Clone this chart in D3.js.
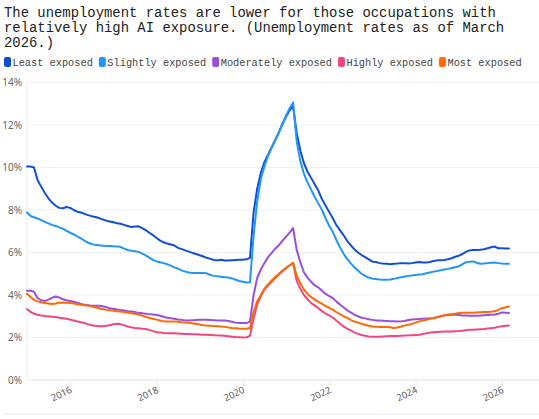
<!DOCTYPE html>
<html>
<head>
<meta charset="utf-8">
<script src="https://cdn.jsdelivr.net/npm/d3@7"></script>
<style>
  body { margin: 0; background: #fff; }
  svg { display: block; }
</style>
</head>
<body>
<svg id="chart" width="539" height="419"></svg>
<script>
// monthly, Jan 2015 - Mar 2026 (one row per year)
const startMonth = new Date(2015, 0, 1);
const endMonth = new Date(2026, 2, 1);

const leastExposed = [
  10.05, 10.05, 10.0, 9.4, 9.1, 8.8, 8.55, 8.35, 8.2, 8.1, 8.08, 8.14,
  8.1, 8.0, 7.92, 7.88, 7.82, 7.76, 7.71, 7.67, 7.62, 7.56, 7.5, 7.46,
  7.42, 7.38, 7.35, 7.3, 7.25, 7.2, 7.22, 7.23, 7.15, 7.05, 6.93, 6.82,
  6.68, 6.56, 6.48, 6.42, 6.38, 6.33, 6.22, 6.16, 6.1, 6.04, 5.98, 5.93,
  5.87, 5.81, 5.75, 5.7, 5.65, 5.63, 5.66, 5.62, 5.62, 5.64, 5.65, 5.66,
  5.66, 5.68, 5.75, 7.9, 9.0, 9.75, 10.25, 10.6, 10.95, 11.3, 11.65, 12.05,
  12.4, 12.7, 12.87, 11.6, 10.8, 10.2, 9.8, 9.5, 9.2, 8.9, 8.5, 8.2,
  7.9, 7.6, 7.3, 7.05, 6.82, 6.55, 6.35, 6.15, 6.0, 5.88, 5.78, 5.68,
  5.57, 5.55, 5.5, 5.48, 5.47, 5.45, 5.47, 5.48, 5.5, 5.5, 5.48, 5.5,
  5.53, 5.55, 5.53, 5.53, 5.55, 5.6, 5.63, 5.63, 5.65, 5.68, 5.73, 5.8,
  5.85, 5.93, 6.03, 6.1, 6.12, 6.12, 6.13, 6.15, 6.2, 6.25, 6.28, 6.2,
  6.2, 6.19, 6.19
];
const slightlyExposed = [
  7.88, 7.72, 7.66, 7.6, 7.52, 7.44, 7.37, 7.3, 7.25, 7.18, 7.12, 7.02,
  6.93, 6.85, 6.76, 6.67, 6.55, 6.46, 6.4, 6.36, 6.34, 6.32, 6.3, 6.31,
  6.29, 6.28, 6.27, 6.18, 6.12, 6.08, 6.06, 6.03, 5.95, 5.86, 5.76, 5.65,
  5.58, 5.54, 5.5, 5.45, 5.38, 5.3, 5.24, 5.16, 5.1, 5.06, 5.04, 5.03,
  5.03, 5.03, 5.02, 4.94, 4.9, 4.88, 4.86, 4.84, 4.82, 4.78, 4.72, 4.66,
  4.62, 4.59, 4.6, 6.8, 8.4, 9.45, 10.05, 10.55, 10.95, 11.3, 11.65, 12.05,
  12.45, 12.8, 13.06, 11.2, 10.3, 9.7, 9.3, 8.95, 8.6, 8.3, 8.0, 7.6,
  7.25, 6.95, 6.6, 6.25, 5.95, 5.7, 5.5, 5.3, 5.15, 5.0, 4.9, 4.82,
  4.77, 4.75, 4.73, 4.72, 4.72, 4.73, 4.76, 4.8, 4.84, 4.87, 4.9, 4.92,
  4.94, 4.96, 4.98, 5.02, 5.06, 5.1, 5.13, 5.17, 5.2, 5.23, 5.27, 5.31,
  5.35, 5.45, 5.54, 5.56, 5.58, 5.52, 5.47, 5.48, 5.5, 5.52, 5.53, 5.5,
  5.48, 5.47, 5.47
];
const moderatelyExposed = [
  4.2, 4.2, 4.15, 3.85, 3.76, 3.72, 3.78, 3.87, 3.93, 3.88, 3.8, 3.75,
  3.72, 3.68, 3.64, 3.58, 3.54, 3.52, 3.5, 3.5, 3.49, 3.47, 3.43, 3.38,
  3.35, 3.32, 3.3, 3.27, 3.24, 3.22, 3.2, 3.16, 3.14, 3.12, 3.1, 3.08,
  3.06, 3.02, 2.98, 2.93, 2.91, 2.88, 2.85, 2.83, 2.8, 2.8, 2.81, 2.82,
  2.83, 2.83, 2.83, 2.82, 2.81, 2.8, 2.8, 2.8, 2.78, 2.74, 2.7, 2.68,
  2.68, 2.68, 2.75, 4.0, 4.8, 5.2, 5.5, 5.78, 5.98, 6.18, 6.35, 6.55,
  6.75, 6.95, 7.15, 6.1, 5.55, 5.06, 4.82, 4.62, 4.45, 4.35, 4.2, 4.05,
  3.95, 3.85, 3.7, 3.55, 3.42, 3.28, 3.18, 3.08, 3.0, 2.93, 2.9, 2.86,
  2.83, 2.8, 2.8, 2.79, 2.78, 2.77, 2.76, 2.75, 2.76, 2.78, 2.82, 2.85,
  2.86, 2.87, 2.88, 2.89, 2.9, 2.92, 2.96, 3.0, 3.04, 3.06, 3.07, 3.07,
  3.06, 3.04, 3.03, 3.02, 3.02, 3.02, 3.03, 3.05, 3.06, 3.07, 3.08, 3.12,
  3.18, 3.17, 3.15
];
const highlyExposed = [
  3.34, 3.2, 3.12, 3.07, 3.03, 3.01, 3.0, 2.98, 2.96, 2.93, 2.91, 2.88,
  2.84, 2.8, 2.76, 2.72, 2.68, 2.62, 2.58, 2.55, 2.53, 2.53, 2.55, 2.58,
  2.62, 2.65, 2.63, 2.58, 2.52, 2.48, 2.45, 2.43, 2.41, 2.4, 2.36, 2.3,
  2.25, 2.23, 2.21, 2.2, 2.2, 2.2, 2.19, 2.18, 2.17, 2.16, 2.15, 2.15,
  2.14, 2.13, 2.13, 2.12, 2.11, 2.1, 2.09, 2.08, 2.06, 2.04, 2.02, 2.01,
  2.0, 2.01, 2.08, 2.9, 3.55, 3.95, 4.25, 4.45, 4.62, 4.8, 4.96, 5.12,
  5.27, 5.4, 5.5, 4.65, 4.3, 4.0, 3.8, 3.62, 3.5, 3.38, 3.24, 3.12,
  3.04, 2.94, 2.8, 2.66, 2.52, 2.42, 2.33, 2.24, 2.17, 2.12, 2.08, 2.05,
  2.03, 2.03, 2.04, 2.05, 2.06, 2.07, 2.07, 2.07, 2.08, 2.09, 2.1, 2.11,
  2.12, 2.13, 2.16, 2.2, 2.23, 2.25, 2.26, 2.27, 2.28, 2.28, 2.28, 2.29,
  2.3, 2.32, 2.34, 2.36, 2.37, 2.38, 2.39, 2.4, 2.42, 2.44, 2.46, 2.5,
  2.53, 2.55, 2.56
];
const mostExposed = [
  4.06, 3.9, 3.77, 3.7, 3.66, 3.62, 3.6, 3.58, 3.6, 3.64, 3.65, 3.64,
  3.62, 3.6, 3.56, 3.54, 3.52, 3.5, 3.46, 3.42, 3.38, 3.34, 3.3, 3.28,
  3.26, 3.24, 3.22, 3.2, 3.17, 3.14, 3.12, 3.08, 3.03, 2.98, 2.92, 2.88,
  2.84, 2.8, 2.76, 2.75, 2.75, 2.75, 2.74, 2.72, 2.7, 2.69, 2.67, 2.64,
  2.61, 2.58, 2.56, 2.55, 2.54, 2.53, 2.52, 2.5, 2.47, 2.45, 2.44, 2.42,
  2.41, 2.41, 2.45, 3.2, 3.7, 4.0, 4.3, 4.5, 4.68, 4.85, 5.0, 5.15,
  5.28, 5.4, 5.53, 4.9, 4.55, 4.25, 4.05, 3.9, 3.78, 3.68, 3.58, 3.48,
  3.4, 3.3, 3.2, 3.1, 3.0, 2.92, 2.83, 2.75, 2.7, 2.65, 2.6, 2.55,
  2.52, 2.51, 2.5, 2.5, 2.49, 2.48, 2.45, 2.47, 2.52, 2.57, 2.6, 2.64,
  2.7, 2.76, 2.8, 2.83, 2.88, 2.91, 2.95, 3.0, 3.05, 3.08, 3.1, 3.12,
  3.15, 3.16, 3.16, 3.17, 3.17, 3.18, 3.19, 3.2, 3.2, 3.21, 3.23, 3.3,
  3.38, 3.42, 3.46
];

const seriesNames = ["Least exposed", "Slightly exposed", "Moderately exposed", "Highly exposed", "Most exposed"];
const seriesValues = [leastExposed, slightlyExposed, moderatelyExposed, highlyExposed, mostExposed];
const seriesColors = ["#0f4fd6", "#2196f7", "#9a4ee0", "#f2467f", "#ff6a00"];

const yTicks = [0, 2, 4, 6, 8, 10, 12, 14];
const xTickYears = [2016, 2018, 2020, 2022, 2024, 2026];

const titleLines = [
  "The unemployment rates are lower for those occupations with",
  "relatively high AI exposure. (Unemployment rates as of March",
  "2026.)"
];

const months = d3.timeMonth.range(startMonth, d3.timeMonth.offset(endMonth, 1));

const svg = d3.select("#chart");
const monoFont = "'Liberation Mono', 'DejaVu Sans Mono', monospace";

// titulo
svg.append("text")
    .attr("x", 4)
    .attr("y", 16.5)
    .style("font-family", monoFont)
    .style("font-size", "13.9px")
    .style("fill", "#222")
    .selectAll("tspan")
    .data(titleLines)
    .enter().append("tspan")
    .attr("x", 4)
    .attr("dy", (d, i) => i === 0 ? 0 : 15)
    .text(d => d);

// legenda
const legend = svg.append("g").attr("transform", "translate(4, 57)");
let lx = 0;
seriesNames.forEach((name, i) => {
    legend.append("rect")
        .attr("x", lx)
        .attr("y", 0)
        .attr("width", 7)
        .attr("height", 10)
        .attr("rx", 2)
        .attr("fill", seriesColors[i]);
    const t = legend.append("text")
        .attr("x", lx + 8.5)
        .attr("y", 8.5)
        .style("font-family", monoFont)
        .style("font-size", "10.3px")
        .style("fill", "#444")
        .text(name);
    lx += 8.5 + t.node().getComputedTextLength() + 6;
});

const x = d3.scaleTime()
    .domain([startMonth, new Date(2026, 10, 10)])
    .range([27, 539]);

const y = d3.scaleLinear()
    .domain([0, 14])
    .range([380, 82.5]);

// grade
svg.append("g")
    .selectAll("line")
    .data(yTicks)
    .enter().append("line")
    .attr("x1", 27)
    .attr("x2", 539)
    .attr("y1", d => y(d))
    .attr("y2", d => y(d))
    .attr("stroke", d => d === 0 ? "#e2e2e2" : "#f0f0f0")
    .attr("stroke-width", 1);

svg.append("line")
    .attr("x1", 27).attr("x2", 27)
    .attr("y1", y(14)).attr("y2", y(0))
    .attr("stroke", "#ececec");

// eixo y
const yAxis = svg.append("g")
    .attr("transform", "translate(27,0)")
    .call(d3.axisLeft(y).tickValues(yTicks).tickSize(0).tickPadding(5).tickFormat(d => d + "%"));
yAxis.select(".domain").remove();
yAxis.selectAll("text")
    .style("font-family", "'Noto Sans', sans-serif")
    .style("font-size", "10px")
    .style("fill", "#666");

// eixo x
const xAxis = svg.append("g")
    .attr("transform", `translate(0,${y(0)})`)
    .call(d3.axisBottom(x)
        .tickValues(xTickYears.map(yr => new Date(yr, 0, 1)))
        .tickSize(6)
        .tickFormat(d3.timeFormat("%Y")));
xAxis.select(".domain").remove();
xAxis.selectAll(".tick line").attr("stroke", "#e6e6e6");
xAxis.selectAll("text")
    .style("font-family", "'Noto Sans', sans-serif")
    .style("font-size", "9.5px")
    .style("fill", "#555")
    .attr("text-anchor", "end")
    .attr("dy", "0")
    .attr("y", 0)
    .attr("x", 0)
    .attr("transform", "translate(2,12) rotate(-26)");

// linhas
const line = d3.line()
    .x((d, i) => x(months[i]))
    .y(d => y(d))
    .curve(d3.curveLinear);

seriesValues.forEach((values, i) => {
    svg.append("path")
        .datum(values)
        .attr("fill", "none")
        .attr("stroke", seriesColors[i])
        .attr("stroke-width", 2)
        .attr("stroke-linejoin", "round")
        .attr("stroke-linecap", "round")
        .attr("d", line);
});

// linha do rodape
svg.append("line")
    .attr("x1", 4).attr("x2", 539)
    .attr("y1", 414).attr("y2", 414)
    .attr("stroke", "#e4e4e4");
</script>
</body>
</html>
